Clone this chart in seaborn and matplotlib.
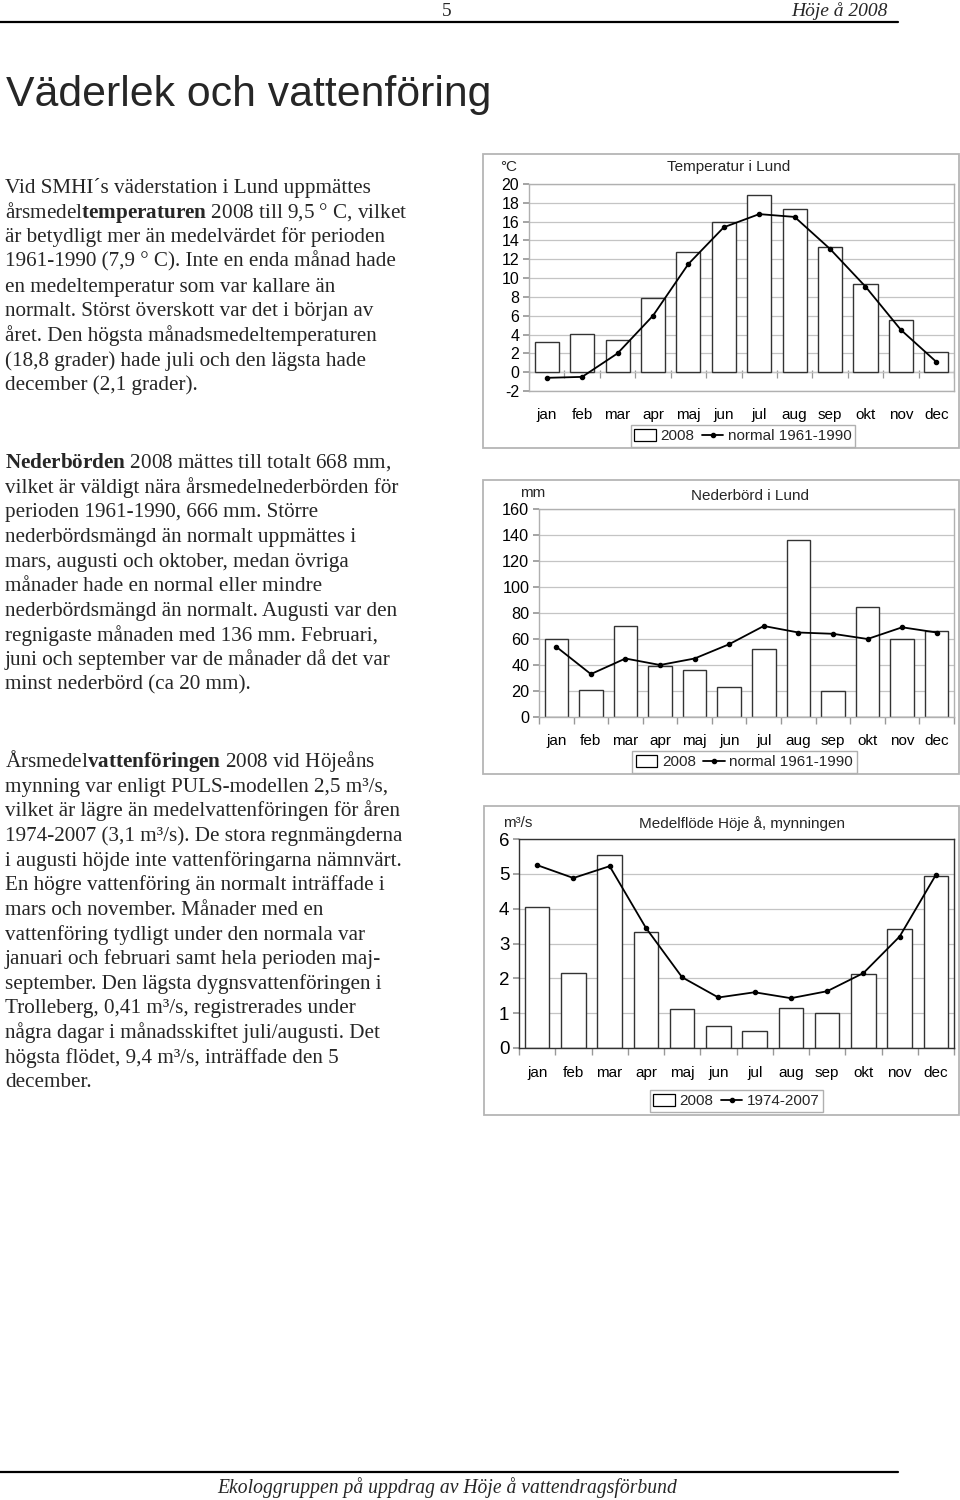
import numpy as np
import matplotlib
matplotlib.use("Agg")
import matplotlib.pyplot as plt
import matplotlib.patches as mpatches
import matplotlib.lines as mlines
import seaborn as sns

sns.set_theme(style="white")
plt.rcParams['font.family'] = ['Liberation Sans', 'DejaVu Sans']
plt.rcParams['axes.unicode_minus'] = False
# bold words in the body text are written with mathtext in the serif face
plt.rcParams['mathtext.fontset'] = 'custom'
plt.rcParams['mathtext.rm'] = 'Liberation Serif'
plt.rcParams['mathtext.bf'] = 'Liberation Serif:bold'
plt.rcParams['mathtext.it'] = 'Liberation Serif:italic'

# data
months = ['jan', 'feb', 'mar', 'apr', 'maj', 'jun', 'jul', 'aug', 'sep', 'okt', 'nov', 'dec']
temp_2008 = [3.2, 4.1, 3.4, 7.9, 12.8, 16.0, 18.8, 17.3, 13.3, 9.4, 5.5, 2.1]
temp_normal = [-0.6, -0.5, 2.0, 6.0, 11.5, 15.4, 16.8, 16.5, 13.1, 9.1, 4.5, 1.1]
precip_2008 = [60, 21, 70, 39, 36, 23, 52, 136, 20, 85, 60, 66]
precip_normal = [54, 33, 45, 40, 45, 56, 70, 65, 64, 60, 69, 65]
flow_2008 = [4.05, 2.15, 5.55, 3.33, 1.12, 0.63, 0.5, 1.15, 1.0, 2.12, 3.42, 4.93]
flow_normal = [5.25, 4.88, 5.22, 3.45, 2.03, 1.45, 1.6, 1.43, 1.63, 2.15, 3.2, 4.97]

W, H = 960, 1500
fig = plt.figure(figsize=(W / 100, H / 100), dpi=100)
fig.patch.set_facecolor('white')


def fx(px):
    return px / W


def fy(py):
    return 1 - py / H


def axes_px(left, top, right, bottom):
    return fig.add_axes([fx(left), fy(bottom), (right - left) / W, (bottom - top) / H])


def chart(box, frame, bars, line, ylim, step, title, unit, legend_lbl, legend_box,
          ytick_size, xpad, spine_col, zero_ticks=False):
    # outer chart frame
    fig.add_artist(mpatches.Rectangle((fx(frame[0]), fy(frame[3])),
                                      (frame[2] - frame[0]) / W, (frame[3] - frame[1]) / H,
                                      transform=fig.transFigure, fill=False,
                                      edgecolor='#b5b5b5', lw=1.3))
    ax = axes_px(*box)
    ax.set_axisbelow(True)
    sns.barplot(x=months, y=bars, color='white', saturation=1, edgecolor='#333333',
                linewidth=1.0, width=0.68, ax=ax)
    sns.pointplot(x=months, y=line, color='black', markers='o', markersize=3.0,
                  linewidth=1.3, ax=ax)
    ax.set_ylim(*ylim)
    ax.set_yticks(np.arange(ylim[0], ylim[1] + step / 2, step))
    ax.yaxis.grid(True, color='#c4c4c4', lw=0.9)
    ax.set_xlabel('')
    ax.set_ylabel('')
    for s in ax.spines.values():
        s.set_color(spine_col)
        s.set_linewidth(1.0)
    ax.tick_params(axis='y', left=True, length=4, color='#999999', labelsize=ytick_size,
                   pad=3, labelcolor='black')
    ax.tick_params(axis='x', which='major', length=0, pad=xpad, labelsize=11,
                   labelcolor='black')
    if zero_ticks:
        ax.axhline(0, color='#999999', lw=0.9, zorder=0.5)
        ax.vlines(np.arange(-0.5, 12, 1), -0.6, 0.2, color='#999999', lw=0.9, zorder=0.5)
    else:
        ax.set_xticks(np.arange(-0.5, 12, 1), minor=True)
        ax.tick_params(axis='x', which='minor', bottom=True, length=5, color='#999999')
    ax.set_xlim(-0.5, 11.5)
    # title and unit
    fig.text(fx(title[1]), fy(title[2]), title[0], ha='center', va='center', fontsize=11)
    fig.text(fx(unit[1]), fy(unit[2]), unit[0], ha='center', va='center', fontsize=11)
    # legend
    h_bar = mpatches.Patch(facecolor='white', edgecolor='black', lw=0.9)
    h_line = mlines.Line2D([], [], color='black', lw=1.3, marker='o', markersize=3.0)
    fig.legend([h_bar, h_line], legend_lbl, loc='center', ncol=2,
               bbox_to_anchor=(fx(legend_box[0]), fy(legend_box[1])),
               bbox_transform=fig.transFigure, fontsize=11, frameon=True,
               fancybox=False, edgecolor='#b0b0b0', framealpha=1,
               handlelength=1.4, handleheight=0.8, handletextpad=0.3,
               columnspacing=0.5, borderpad=0.25, borderaxespad=0)
    return ax


chart((529, 184, 954, 391), (483, 154, 959, 448), temp_2008, temp_normal, (-2, 20), 2,
      ('Temperatur i Lund', 729, 167), ('°C', 509, 167), ['2008', 'normal 1961-1990'],
      (743, 436), 11.5, 12, '#b0b0b0', zero_ticks=True)

chart((539, 509, 954, 717), (483, 480, 959, 774), precip_2008, precip_normal, (0, 160), 20,
      ('Nederbörd i Lund', 750, 496), ('mm', 533, 493), ['2008', 'normal 1961-1990'],
      (744.5, 762), 11.7, 12, '#b0b0b0')

chart((519, 839, 954, 1048), (484, 806, 959, 1115), flow_2008, flow_normal, (0, 6), 1,
      ('Medelflöde Höje å, mynningen', 742, 824), ('m³/s', 518, 823), ['2008', '1974-2007'],
      (736.5, 1101), 13.5, 13, '#333333')

# page header / footer
serif = ['Liberation Serif', 'DejaVu Serif']
fig.text(fx(447), fy(16), '5', ha='center', va='baseline', fontsize=14, family=serif)
fig.text(fx(888), fy(16), 'Höje å 2008', ha='right', va='baseline', fontsize=14,
         family=serif, style='italic')
fig.add_artist(mlines.Line2D([0, fx(898)], [fy(22), fy(22)], color='black', lw=1.6,
                             transform=fig.transFigure))
fig.add_artist(mlines.Line2D([0, fx(898)], [fy(1472), fy(1472)], color='black', lw=1.6,
                             transform=fig.transFigure))
fig.text(fx(447), fy(1493), 'Ekologgruppen på uppdrag av Höje å vattendragsförbund',
         ha='center', va='baseline', fontsize=14.1, family=serif, style='italic')

fig.text(fx(6), fy(106), 'Väderlek och vattenföring', ha='left', va='baseline',
         fontsize=30.8)

# body text
BODY = 15.2
para1 = [
    'Vid SMHI´s väderstation i Lund uppmättes',
    r'årsmedel$\mathbf{temperaturen}$ 2008 till 9,5 ° C, vilket',
    'är betydligt mer än medelvärdet för perioden',
    '1961-1990 (7,9 ° C). Inte en enda månad hade',
    'en medeltemperatur som var kallare än',
    'normalt. Störst överskott var det i början av',
    'året. Den högsta månadsmedeltemperaturen',
    '(18,8 grader) hade juli och den lägsta hade',
    'december (2,1 grader).',
]
para2 = [
    r'$\mathbf{Nederbörden}$ 2008 mättes till totalt 668 mm,',
    'vilket är väldigt nära årsmedelnederbörden för',
    'perioden 1961-1990, 666 mm. Större',
    'nederbördsmängd än normalt uppmättes i',
    'mars, augusti och oktober, medan övriga',
    'månader hade en normal eller mindre',
    'nederbördsmängd än normalt. Augusti var den',
    'regnigaste månaden med 136 mm. Februari,',
    'juni och september var de månader då det var',
    'minst nederbörd (ca 20 mm).',
]
para3 = [
    r'Årsmedel$\mathbf{vattenföringen}$ 2008 vid Höjeåns',
    'mynning var enligt PULS-modellen 2,5 m³/s,',
    'vilket är lägre än medelvattenföringen för åren',
    '1974-2007 (3,1 m³/s). De stora regnmängderna',
    'i augusti höjde inte vattenföringarna nämnvärt.',
    'En högre vattenföring än normalt inträffade i',
    'mars och november. Månader med en',
    'vattenföring tydligt under den normala var',
    'januari och februari samt hela perioden maj-',
    'september. Den lägsta dygnsvattenföringen i',
    'Trolleberg, 0,41 m³/s, registrerades under',
    'några dagar i månadsskiftet juli/augusti. Det',
    'högsta flödet, 9,4 m³/s, inträffade den 5',
    'december.',
]

for start, para in [(193, para1), (468, para2), (767, para3)]:
    for i, line in enumerate(para):
        fig.text(fx(5), fy(start + i * 24.65), line, ha='left', va='baseline',
                 fontsize=BODY, family=serif)

fig.savefig('out.png', dpi=100, facecolor='white')
